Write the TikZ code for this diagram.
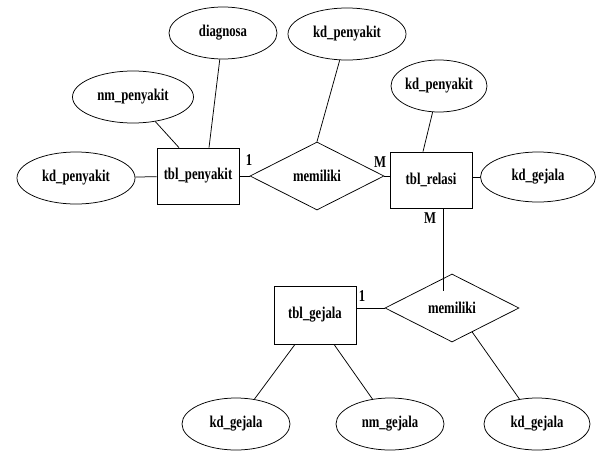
\documentclass[tikz,border=0pt]{standalone}
\usepackage{fontspec}
\setmainfont[FakeStretch=0.77]{Liberation Serif}
\usetikzlibrary{shapes.geometric,calc}

\begin{document}
\begin{tikzpicture}[x=1pt,y=-1pt,line width=0.75pt,
    font=\bfseries\fontsize{16.5}{18}\selectfont,
    atribut/.style={ellipse,draw,minimum width=#1,minimum height=52pt,inner sep=0pt},
    atribut/.default=108pt,
    entitas/.style={rectangle,draw,minimum width=82pt,minimum height=56pt,inner sep=0pt},
    relasi/.style={diamond,draw,minimum width=134pt,minimum height=68pt,inner sep=0pt}]
    \useasboundingbox (0,0) rectangle (597,450);
    % entitas dan relasi
    \node[entitas] (penyakit) at (198,176) {tbl\_penyakit};
    \node[relasi] (memiliki1) at (317,176) {memiliki};
    \node[entitas] (relasitbl) at (431,180) {tbl\_relasi};
    \node[relasi] (memiliki2) at (452,308) {memiliki};
    \node[entitas, minimum height=58pt] (gejala) at (315,315) {tbl\_gejala};
    % atribut
    \node[atribut] (diagnosa) at (223,33) {diagnosa};
    \node[atribut=121pt] (nmpenyakit) at (133,97) {nm\_penyakit};
    \node[atribut=118pt] (kdpenyakit1) at (76,178) {kd\_penyakit};
    \node[atribut=118pt] (kdpenyakit2) at (347,34) {kd\_penyakit};
    \node[atribut=96pt] (kdpenyakit3) at (439,86) {kd\_penyakit};
    \node[atribut=115pt, minimum height=50pt] (kdgejala1) at (538,177) {kd\_gejala};
    \node[atribut] (kdgejala2) at (236,424) {kd\_gejala};
    \node[atribut] (nmgejala) at (390,424) {nm\_gejala};
    \node[atribut=106pt] (kdgejala3) at (537,424) {kd\_gejala};
    % garis
    \draw (kdpenyakit1) -- (penyakit);
    \draw (nmpenyakit) -- ([xshift=-19pt]penyakit.north);
    \draw (diagnosa) -- ([xshift=11pt]penyakit.north);
    \draw (penyakit.east) -- (memiliki1.west);
    \draw (kdpenyakit2) -- (memiliki1.north);
    \draw (memiliki1.east) -- (relasitbl.west |- memiliki1.east);
    \draw (kdpenyakit3) -- ([xshift=-8pt]relasitbl.north);
    \draw (relasitbl.east |- kdgejala1.west) -- (kdgejala1.west);
    \draw ([xshift=12pt]relasitbl.south) -- ([xshift=12pt]relasitbl.south |- memiliki2.north west);
    \draw (gejala.east |- memiliki2.west) -- (memiliki2.west);
    \draw ($(memiliki2.south)!0.3!(memiliki2.east)$) -- (kdgejala3);
    \draw ([xshift=-20pt]gejala.south) -- (kdgejala2);
    \draw ([xshift=19pt]gejala.south) -- (nmgejala);
    % kardinalitas
    \node (k1) at (249,160) {1};
    \node (k2) at (380,162) {M};
    \node (k3) at (430,218) {M};
    \node (k4) at (362,296) {1};
\end{tikzpicture}
\end{document}
